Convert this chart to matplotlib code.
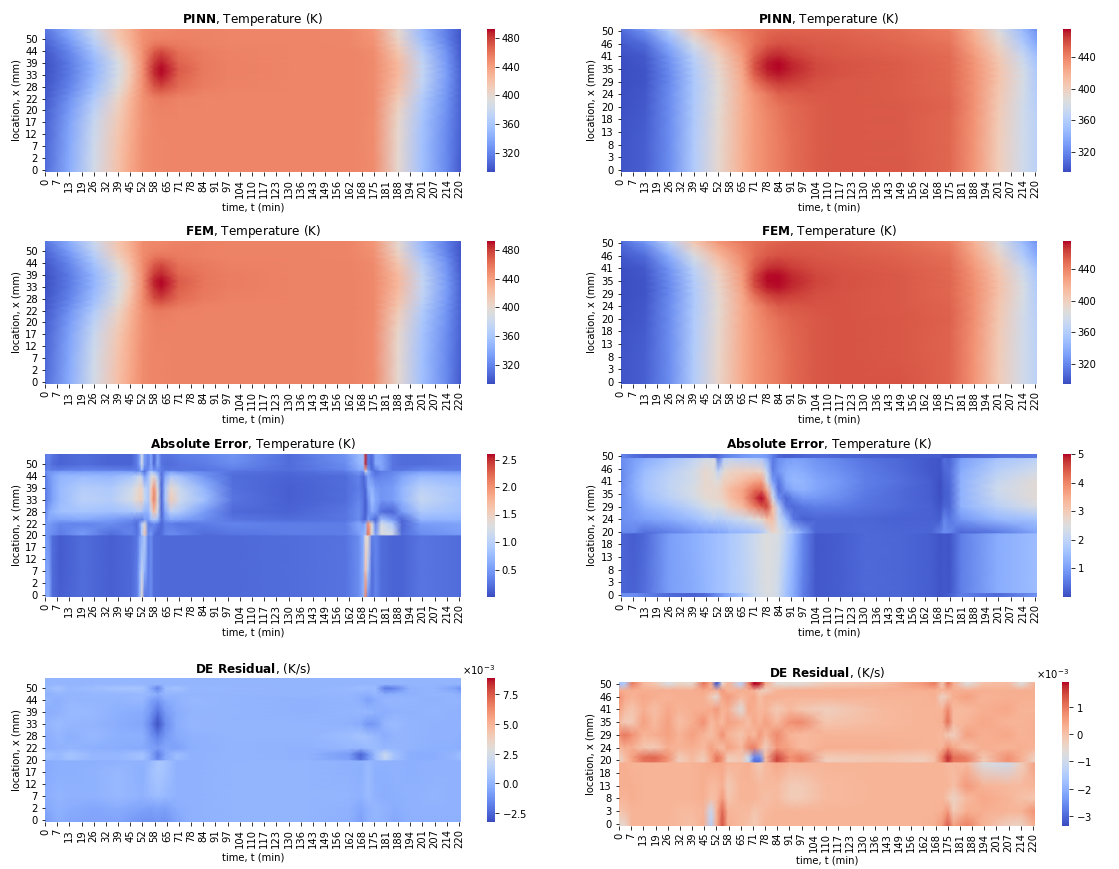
import numpy as np
import matplotlib
matplotlib.use("Agg")
import matplotlib.pyplot as plt

W, H = 1119, 869

t_labels = [0, 7, 13, 19, 26, 32, 39, 45, 52, 58, 65, 71, 78, 84, 91, 97, 104,
            110, 117, 123, 130, 136, 143, 149, 156, 162, 168, 175, 181, 188,
            194, 201, 207, 214, 220]
x_labels_left = [0, 2, 7, 12, 17, 20, 22, 28, 33, 39, 44, 50, 56]
x_labels_right = [0, 3, 8, 13, 18, 20, 24, 29, 35, 41, 46, 50, 56]

# temperature, left column
t_temp_left = [0, 13, 26, 39, 45, 52, 58, 62, 71, 84, 97, 130, 162, 175, 188, 201, 214, 222]
x_temp_left = [0, 7, 17, 20, 22, 25, 28, 33, 36, 39, 44, 47, 50, 56]
pinn_left = [
    [308, 342, 384, 420, 435, 447, 451, 451, 452, 452, 452, 452, 452, 449, 400, 355, 322, 300],
    [306, 340, 382, 418, 433, 447, 451, 451, 452, 452, 452, 452, 452, 448, 400, 355, 322, 302],
    [304, 336, 378, 414, 430, 446, 451, 452, 452, 452, 452, 452, 452, 448, 402, 357, 324, 304],
    [302, 332, 372, 410, 428, 446, 452, 453, 452, 452, 452, 452, 452, 449, 406, 360, 326, 304],
    [300, 328, 364, 404, 425, 446, 454, 456, 453, 452, 452, 452, 452, 449, 412, 364, 328, 304],
    [299, 324, 358, 398, 421, 447, 462, 465, 458, 453, 452, 452, 452, 449, 417, 368, 329, 304],
    [298, 320, 354, 394, 418, 447, 470, 476, 462, 455, 453, 452, 452, 449, 420, 372, 330, 304],
    [296, 316, 348, 388, 412, 447, 482, 490, 468, 457, 454, 452, 452, 449, 425, 375, 332, 304],
    [296, 316, 348, 388, 412, 447, 484, 492, 469, 457, 454, 452, 452, 449, 425, 375, 331, 303],
    [296, 316, 348, 388, 413, 447, 480, 488, 466, 457, 454, 452, 452, 449, 424, 374, 330, 302],
    [300, 322, 358, 400, 421, 447, 468, 474, 460, 455, 453, 452, 452, 448, 416, 366, 326, 300],
    [303, 328, 365, 408, 425, 447, 458, 460, 456, 453, 452, 452, 451, 446, 410, 360, 322, 299],
    [306, 334, 372, 414, 428, 447, 452, 453, 454, 453, 452, 452, 451, 445, 404, 354, 318, 298],
    [314, 345, 382, 418, 431, 447, 450, 450, 452, 453, 452, 452, 451, 443, 398, 350, 316, 300],
]
fem_left = [
    [308, 342, 385, 421, 435, 448, 452, 452, 453, 453, 453, 453, 453, 450, 400, 355, 322, 300],
    [306, 340, 383, 419, 433, 448, 452, 452, 453, 453, 453, 453, 453, 449, 400, 355, 322, 302],
    [304, 336, 378, 415, 431, 447, 452, 453, 453, 453, 453, 453, 453, 449, 402, 357, 324, 304],
    [302, 332, 372, 410, 428, 447, 453, 454, 453, 453, 453, 453, 453, 450, 407, 360, 326, 304],
    [300, 328, 364, 404, 425, 447, 455, 457, 454, 453, 453, 453, 453, 450, 412, 364, 328, 304],
    [299, 324, 358, 398, 421, 448, 464, 467, 458, 454, 453, 453, 453, 450, 417, 368, 329, 304],
    [298, 320, 354, 394, 418, 448, 473, 478, 463, 456, 454, 453, 453, 450, 420, 372, 330, 304],
    [296, 316, 348, 388, 412, 448, 484, 491, 468, 458, 455, 453, 453, 450, 425, 375, 332, 304],
    [296, 316, 348, 388, 412, 448, 486, 492, 469, 458, 455, 453, 453, 450, 425, 375, 331, 303],
    [296, 316, 348, 388, 413, 448, 480, 486, 465, 458, 455, 453, 453, 450, 424, 374, 330, 302],
    [300, 322, 358, 400, 421, 448, 467, 472, 459, 456, 454, 453, 453, 449, 416, 366, 326, 300],
    [303, 328, 365, 408, 425, 448, 458, 460, 456, 454, 453, 453, 452, 447, 410, 360, 322, 299],
    [306, 334, 372, 414, 428, 448, 453, 454, 455, 454, 453, 453, 452, 446, 404, 354, 318, 298],
    [314, 345, 382, 418, 431, 448, 451, 451, 453, 454, 453, 453, 452, 444, 398, 350, 316, 300],
]

# temperature, right column
t_temp_right = [0, 13, 26, 39, 52, 65, 71, 78, 84, 91, 104, 117, 149, 175, 188, 201, 214, 222]
x_temp_right = [0, 8, 18, 20, 24, 29, 32, 35, 38, 41, 46, 50, 56]
pinn_right = [
    [298, 302, 322, 358, 392, 420, 430, 437, 442, 448, 454, 456, 456, 451, 432, 402, 376, 364],
    [298, 302, 322, 358, 391, 420, 430, 437, 442, 448, 454, 456, 455, 451, 432, 402, 376, 364],
    [297, 301, 322, 357, 390, 420, 430, 438, 444, 449, 454, 456, 455, 451, 433, 403, 376, 363],
    [296, 300, 322, 357, 389, 420, 431, 440, 445, 450, 454, 456, 455, 452, 434, 404, 376, 362],
    [296, 299, 322, 356, 388, 420, 433, 444, 452, 454, 456, 456, 454, 451, 434, 406, 378, 360],
    [295, 298, 321, 356, 389, 422, 445, 460, 466, 464, 458, 456, 454, 450, 434, 408, 380, 358],
    [295, 298, 321, 357, 391, 424, 452, 468, 472, 468, 460, 457, 454, 450, 434, 408, 380, 357],
    [295, 298, 322, 358, 392, 426, 456, 472, 476, 471, 461, 457, 454, 450, 433, 408, 378, 356],
    [295, 299, 324, 361, 395, 428, 456, 472, 476, 470, 460, 457, 454, 449, 432, 406, 375, 353],
    [296, 300, 326, 364, 398, 430, 452, 467, 471, 465, 458, 456, 453, 449, 430, 404, 372, 350],
    [299, 308, 340, 380, 412, 436, 446, 454, 458, 457, 455, 454, 451, 446, 424, 395, 358, 336],
    [306, 324, 362, 402, 428, 441, 446, 450, 452, 453, 453, 452, 448, 442, 418, 385, 348, 325],
    [310, 332, 370, 408, 432, 443, 446, 449, 450, 452, 452, 451, 447, 440, 414, 380, 344, 320],
]
fem_right = [
    [298, 302, 322, 359, 394, 422, 432, 439, 444, 450, 456, 457, 457, 452, 433, 403, 377, 365],
    [298, 302, 322, 359, 393, 422, 432, 439, 444, 450, 456, 457, 456, 452, 433, 403, 377, 365],
    [297, 301, 322, 358, 392, 422, 432, 440, 446, 451, 456, 457, 456, 452, 434, 404, 377, 364],
    [296, 300, 322, 358, 391, 422, 433, 442, 447, 452, 456, 457, 456, 453, 435, 405, 377, 363],
    [296, 299, 322, 357, 390, 422, 435, 447, 454, 456, 457, 457, 455, 452, 435, 407, 379, 361],
    [295, 298, 321, 357, 391, 425, 449, 464, 468, 465, 459, 457, 455, 451, 435, 409, 381, 359],
    [295, 298, 321, 358, 393, 428, 457, 472, 474, 469, 461, 458, 455, 451, 435, 409, 381, 358],
    [295, 298, 322, 359, 394, 430, 460, 475, 476, 471, 462, 458, 455, 451, 434, 409, 379, 357],
    [295, 299, 324, 362, 397, 431, 459, 474, 475, 469, 461, 458, 455, 450, 433, 407, 376, 354],
    [296, 300, 326, 365, 400, 433, 454, 468, 470, 465, 459, 457, 454, 450, 431, 405, 373, 351],
    [299, 308, 340, 381, 414, 438, 448, 455, 458, 457, 456, 455, 452, 447, 425, 396, 359, 337],
    [306, 324, 362, 403, 430, 443, 447, 451, 453, 454, 454, 453, 449, 443, 419, 386, 349, 326],
    [310, 332, 370, 409, 434, 445, 447, 450, 451, 453, 453, 452, 448, 441, 415, 381, 345, 321],
]

# absolute error, left column
t_err_left = [0, 2, 4, 8, 20, 35, 46, 49, 50.5, 51.5, 53, 55, 56.5, 58, 60, 62, 64, 67, 72,
              85, 100, 130, 160, 167, 169.5, 170.5, 172, 174, 176, 179, 185, 190, 200, 222]
x_err_left = [0, 7, 19.9, 20.2, 22, 24, 28, 33, 39, 44, 46.5, 47, 50, 56]
err_left = [
    [0.60, 0.65, 0.20, 0.12, 0.20, 0.12, 0.18, 0.30, 0.70, 1.40, 0.25, 0.30, 0.40, 0.20, 0.20, 0.18, 0.18, 0.18, 0.18, 0.18, 0.18, 0.20, 0.24, 0.40, 0.65, 2.10, 0.40, 0.20, 0.35, 0.20, 0.15, 0.15, 0.25, 0.20],
    [0.55, 0.55, 0.20, 0.10, 0.20, 0.12, 0.18, 0.30, 0.70, 1.10, 0.70, 0.30, 0.40, 0.20, 0.20, 0.18, 0.18, 0.18, 0.18, 0.18, 0.18, 0.20, 0.24, 0.40, 0.65, 1.70, 0.90, 0.20, 0.35, 0.20, 0.15, 0.15, 0.25, 0.20],
    [0.50, 0.45, 0.20, 0.10, 0.20, 0.12, 0.18, 0.25, 0.50, 0.60, 1.00, 0.30, 0.40, 0.20, 0.20, 0.18, 0.18, 0.18, 0.18, 0.18, 0.18, 0.20, 0.24, 0.40, 0.65, 1.30, 1.40, 0.30, 0.35, 0.20, 0.15, 0.15, 0.25, 0.20],
    [0.50, 0.45, 0.40, 0.30, 0.50, 0.20, 0.35, 0.25, 0.40, 0.90, 1.60, 0.40, 0.50, 0.25, 0.15, 0.20, 0.35, 0.40, 0.35, 0.20, 0.25, 0.30, 0.30, 0.50, 0.70, 0.80, 2.20, 1.30, 0.50, 1.30, 1.20, 0.20, 0.40, 0.50],
    [0.50, 0.50, 0.45, 0.35, 0.35, 0.40, 0.30, 0.20, 0.50, 0.90, 1.30, 0.30, 0.30, 0.40, 0.30, 0.15, 0.30, 0.30, 0.25, 0.30, 0.35, 0.30, 0.30, 0.60, 0.50, 0.70, 2.00, 1.30, 0.35, 1.20, 0.90, 0.15, 0.50, 0.55],
    [0.40, 0.60, 0.55, 0.55, 0.60, 0.50, 0.40, 0.30, 0.30, 0.25, 0.50, 0.50, 0.80, 0.90, 0.80, 0.20, 0.45, 0.60, 0.55, 0.40, 0.25, 0.20, 0.25, 0.40, 0.20, 0.15, 0.50, 0.30, 0.15, 0.80, 0.50, 0.15, 0.70, 0.70],
    [0.35, 0.60, 0.70, 0.80, 0.85, 0.80, 0.85, 0.90, 0.90, 0.85, 0.70, 0.70, 1.10, 1.70, 1.20, 0.15, 0.60, 1.00, 0.90, 0.50, 0.18, 0.15, 0.25, 0.40, 0.25, 0.10, 0.35, 0.60, 0.50, 0.20, 0.15, 0.50, 0.90, 0.80],
    [0.30, 0.40, 0.55, 0.75, 1.00, 0.95, 1.20, 1.40, 1.50, 1.50, 1.10, 0.90, 1.60, 2.10, 1.35, 0.15, 0.85, 1.55, 1.15, 0.80, 0.25, 0.12, 0.20, 0.35, 0.25, 0.10, 0.40, 0.80, 0.60, 0.45, 0.50, 0.70, 1.10, 0.85],
    [0.30, 0.40, 0.55, 0.75, 0.95, 0.90, 1.15, 1.35, 1.45, 1.45, 1.05, 0.90, 1.50, 2.00, 1.30, 0.15, 0.85, 1.40, 1.10, 0.70, 0.22, 0.12, 0.20, 0.30, 0.20, 0.15, 0.60, 0.70, 0.50, 0.45, 0.50, 0.70, 1.00, 0.85],
    [0.30, 0.45, 0.55, 0.70, 0.75, 0.72, 0.85, 1.00, 1.10, 1.00, 0.50, 0.80, 1.20, 1.30, 0.90, 0.20, 0.60, 0.90, 0.80, 0.45, 0.20, 0.15, 0.20, 0.35, 0.15, 0.30, 0.55, 0.40, 0.30, 0.35, 0.40, 0.55, 0.75, 0.70],
    [0.40, 0.45, 0.45, 0.50, 0.50, 0.50, 0.50, 0.40, 0.50, 0.35, 0.20, 0.60, 0.90, 0.70, 0.50, 0.25, 0.40, 0.50, 0.40, 0.35, 0.25, 0.18, 0.30, 0.50, 0.40, 1.20, 0.70, 0.35, 0.20, 0.30, 0.35, 0.40, 0.50, 0.45],
    [0.30, 0.35, 0.30, 0.30, 0.35, 0.32, 0.30, 0.30, 0.40, 0.80, 0.30, 0.40, 0.60, 0.40, 0.40, 0.30, 0.25, 0.25, 0.25, 0.25, 0.30, 0.20, 0.35, 0.60, 0.60, 1.80, 0.50, 0.20, 0.30, 0.55, 0.25, 0.25, 0.35, 0.30],
    [0.25, 0.30, 0.20, 0.15, 0.20, 0.15, 0.15, 0.30, 0.60, 1.20, 0.50, 0.30, 0.60, 0.15, 0.60, 0.25, 0.20, 0.20, 0.25, 0.30, 0.40, 0.20, 0.40, 0.70, 0.80, 2.50, 0.30, 0.15, 0.60, 0.60, 0.25, 0.20, 0.20, 0.25],
    [0.30, 0.35, 0.25, 0.15, 0.20, 0.15, 0.15, 0.30, 0.60, 1.20, 0.50, 0.35, 0.60, 0.15, 0.55, 0.25, 0.25, 0.25, 0.30, 0.35, 0.45, 0.20, 0.45, 0.75, 0.80, 2.50, 0.30, 0.20, 0.60, 0.55, 0.25, 0.20, 0.20, 0.25],
]

# absolute error, right column
t_err_right = [0, 7, 13, 26, 39, 45, 50, 52, 55, 58, 65, 71, 75, 78, 81, 84, 88, 92, 97, 104,
               117, 130, 150, 165, 170, 172, 175, 181, 200, 222]
x_err_right = [0, 0.5, 0.6, 8, 19.7, 19.9, 24, 29, 33, 37, 41, 45, 49.4, 49.6, 56]
err_right = [
    [0.80, 0.80, 0.60, 0.35, 0.25, 0.35, 0.70, 0.80, 1.00, 1.20, 1.60, 2.10, 2.30, 2.40, 2.40, 2.20, 1.60, 1.20, 0.60, 0.15, 0.20, 0.30, 0.30, 0.20, 0.10, 0.15, 0.20, 0.60, 0.35, 0.85],
    [0.80, 0.80, 0.60, 0.35, 0.25, 0.35, 0.70, 0.80, 1.00, 1.20, 1.60, 2.10, 2.30, 2.40, 2.40, 2.20, 1.60, 1.20, 0.60, 0.15, 0.20, 0.30, 0.30, 0.20, 0.10, 0.15, 0.20, 0.60, 0.35, 0.85],
    [0.30, 0.25, 0.40, 1.00, 1.20, 1.35, 1.50, 1.55, 1.60, 1.70, 1.90, 2.15, 2.35, 2.45, 2.40, 2.20, 1.60, 1.20, 0.60, 0.15, 0.20, 0.35, 0.30, 0.20, 0.10, 0.15, 0.10, 0.60, 1.20, 1.50],
    [0.30, 0.22, 0.38, 1.00, 1.22, 1.38, 1.50, 1.55, 1.60, 1.70, 1.92, 2.18, 2.38, 2.48, 2.42, 2.25, 1.70, 1.25, 0.65, 0.15, 0.20, 0.35, 0.30, 0.20, 0.10, 0.15, 0.10, 0.60, 1.20, 1.50],
    [0.30, 0.20, 0.35, 1.00, 1.25, 1.40, 1.50, 1.55, 1.60, 1.70, 1.95, 2.20, 2.40, 2.50, 2.45, 2.40, 1.90, 1.40, 0.70, 0.15, 0.20, 0.35, 0.30, 0.20, 0.10, 0.15, 0.10, 0.60, 1.20, 1.50],
    [0.70, 0.70, 0.40, 0.60, 0.90, 1.00, 1.00, 1.10, 1.10, 1.30, 1.40, 1.50, 1.70, 2.20, 2.80, 2.50, 2.00, 1.70, 1.10, 0.30, 0.30, 0.35, 0.30, 0.30, 0.60, 0.80, 0.70, 0.30, 0.50, 1.10],
    [0.80, 0.90, 1.00, 1.20, 1.50, 1.70, 1.90, 1.80, 1.90, 2.00, 2.20, 2.50, 2.70, 3.20, 3.20, 2.20, 1.50, 0.50, 0.25, 0.30, 0.30, 0.30, 0.25, 0.25, 0.20, 0.70, 0.50, 0.90, 1.40, 1.60],
    [0.80, 1.00, 1.30, 1.60, 2.00, 2.30, 2.50, 2.45, 2.60, 2.90, 3.30, 4.00, 4.40, 4.60, 3.20, 1.90, 0.50, 0.35, 0.50, 0.60, 0.55, 0.45, 0.35, 0.25, 0.10, 0.30, 0.30, 1.30, 1.90, 2.40],
    [0.75, 1.10, 1.50, 1.90, 2.30, 2.60, 2.70, 2.75, 2.90, 3.20, 3.60, 4.50, 5.00, 4.20, 2.30, 0.90, 0.30, 0.70, 0.90, 0.90, 0.75, 0.50, 0.35, 0.20, 0.05, 0.20, 0.30, 1.30, 2.10, 2.60],
    [0.75, 1.20, 1.60, 2.00, 2.40, 2.70, 2.70, 2.75, 3.00, 3.30, 3.60, 4.20, 4.30, 3.40, 1.80, 0.40, 0.90, 1.20, 1.30, 1.10, 0.85, 0.55, 0.35, 0.20, 0.05, 0.20, 0.30, 1.30, 2.20, 2.60],
    [0.70, 1.20, 1.60, 2.00, 2.30, 2.70, 2.60, 2.55, 2.90, 3.00, 3.30, 3.60, 3.70, 2.40, 1.00, 0.50, 1.20, 1.40, 1.35, 1.15, 0.90, 0.60, 0.40, 0.20, 0.05, 0.25, 0.35, 1.30, 2.10, 2.60],
    [0.70, 1.10, 1.50, 1.90, 2.30, 2.70, 2.50, 2.00, 2.60, 2.80, 2.90, 2.90, 2.80, 2.00, 0.60, 0.90, 1.20, 1.30, 1.20, 1.00, 0.80, 0.55, 0.35, 0.15, 0.10, 0.30, 0.40, 1.20, 1.90, 2.30],
    [0.75, 1.00, 1.20, 1.60, 2.00, 2.30, 2.40, 0.50, 1.80, 2.00, 1.90, 1.80, 1.70, 1.20, 0.50, 0.80, 0.95, 1.00, 1.00, 0.85, 0.65, 0.45, 0.30, 0.15, 0.10, 0.40, 0.30, 1.00, 1.60, 1.90],
    [0.70, 0.40, 0.30, 0.30, 0.30, 0.40, 0.30, 0.40, 0.60, 0.70, 0.90, 1.00, 1.00, 0.90, 0.60, 0.30, 0.20, 0.25, 0.30, 0.35, 0.30, 0.25, 0.20, 0.20, 0.20, 0.10, 0.10, 0.25, 0.40, 0.50],
    [0.70, 0.40, 0.30, 0.30, 0.30, 0.40, 0.30, 0.40, 0.60, 0.70, 0.90, 1.00, 1.00, 0.90, 0.60, 0.30, 0.20, 0.25, 0.30, 0.35, 0.30, 0.25, 0.20, 0.20, 0.20, 0.10, 0.10, 0.25, 0.40, 0.50],
]

# DE residual (x 1e-3), left column
t_res_left = [0, 7, 13, 26, 39, 52, 56, 60, 64, 70, 78, 100, 140, 162, 168, 172, 176, 181, 186, 194, 207, 218, 222]
x_res_left = [0, 2, 7, 17, 19.8, 20.1, 21, 22, 28, 33, 39, 44, 47, 50, 52, 56]
res_left = [
    [-0.9, -0.3, -0.5, -0.6, -0.6, -1.2, -1.2, -1.1, -1.2, -0.6, -0.1, 0.0, 0.0, -0.2, -0.7, -0.2, 0.0, -0.1, -0.5, -0.2, -0.2, -0.2, -0.2],
    [-0.5, -0.1, -0.3, -0.5, -0.3, -0.6, -0.7, -0.6, -0.7, -0.3, -0.1, 0.0, 0.0, -0.1, -0.5, -0.1, 0.1, -0.1, -0.3, -0.1, -0.1, -0.1, -0.1],
    [-0.3, 0.0, -0.1, -0.1, 0.2, -0.1, 0.2, 0.4, 0.2, -0.1, -0.1, 0.0, 0.0, 0.0, -0.1, 0.3, -0.1, -0.3, -0.2, -0.1, 0.0, -0.1, -0.1],
    [-0.4, -0.2, -0.2, -0.1, 0.2, -0.2, 0.4, 0.8, 0.5, -0.1, -0.1, 0.0, 0.0, -0.1, -0.2, 0.3, -0.2, -0.2, -0.1, -0.2, -0.1, -0.1, -0.1],
    [-0.4, -0.2, -0.2, -0.2, -0.1, -0.1, 0.1, 0.8, 0.6, -0.1, -0.1, 0.0, 0.0, -0.1, -0.1, 0.2, -0.1, -0.1, -0.1, -0.2, -0.1, -0.1, -0.1],
    [0.3, 0.1, 0.5, 0.1, 0.1, 0.5, -0.3, -1.5, -0.4, 0.3, -0.1, 0.0, -0.1, -0.7, -2.2, -1.0, 0.3, 1.6, 0.5, -0.2, -0.3, 0.1, 0.3],
    [0.5, 0.2, 0.7, 0.1, 0.1, 0.6, -0.3, -1.9, -0.5, 0.4, -0.1, 0.0, -0.1, -0.9, -2.6, -1.2, 0.4, 2.0, 0.6, -0.3, -0.3, 0.1, 0.5],
    [-0.3, -0.1, 0.0, -0.2, -0.3, -0.4, -0.6, -0.9, -0.5, -0.7, -0.2, 0.0, -0.1, 0.1, 0.0, 0.3, 0.3, 0.1, 0.1, 0.0, -0.2, -0.2, -0.3],
    [-0.3, 0.1, -0.2, 0.2, -0.2, -0.2, -1.0, -1.8, -1.0, -0.4, -0.1, 0.0, 0.0, 0.4, 0.7, 0.5, 0.2, -0.3, 0.0, 0.0, -0.1, -0.1, -0.2],
    [0.0, 0.3, 0.1, 0.0, -0.3, -0.5, -1.5, -3.1, -1.4, -0.3, 0.1, 0.0, 0.0, -0.1, -0.4, -1.1, -0.9, 0.1, 0.3, 0.0, -0.1, -0.1, 0.0],
    [-0.3, -0.1, 0.2, 0.2, -0.2, -0.4, -1.0, -2.1, -1.0, -0.3, 0.0, 0.0, -0.1, 0.0, 0.1, 0.2, -0.1, -0.3, -0.1, -0.1, 0.0, -0.1, -0.2],
    [0.1, -0.2, 0.1, 0.0, 0.0, 0.2, -0.6, -1.1, -0.4, -0.1, 0.2, 0.0, -0.1, 0.0, -0.2, -0.7, -0.3, 0.1, 0.1, 0.0, -0.1, 0.0, 0.0],
    [-0.2, 0.1, 0.0, 0.1, 0.1, 0.2, 0.1, -0.3, 0.1, 0.0, 0.0, 0.0, 0.0, 0.1, -0.1, -0.2, 0.1, -0.3, -0.2, -0.1, 0.0, 0.0, -0.3],
    [0.2, 0.6, 0.2, 0.4, 0.7, 0.7, -0.3, -1.7, 0.3, 0.6, 0.1, 0.1, 0.0, 0.2, 0.4, 0.3, 0.3, -2.0, -1.7, -0.1, 0.0, -0.7, -1.3],
    [0.0, 0.1, 0.0, 0.1, 0.1, 0.1, 0.0, 0.0, 0.0, 0.0, 0.0, 0.0, 0.0, 0.0, 0.0, 0.0, 0.0, 0.0, 0.0, 0.0, 0.0, 0.0, 0.0],
    [0.0, 0.0, 0.0, 0.0, 0.0, 0.0, 0.0, 0.0, 0.0, 0.0, 0.0, 0.0, 0.0, 0.0, 0.0, 0.0, 0.0, 0.0, 0.0, 0.0, 0.0, 0.0, 0.0],
]

# DE residual (x 1e-3), right column
t_res_right = [0, 3, 7, 13, 19, 26, 32, 39, 45, 49, 52, 55, 58, 65, 69, 72, 75, 78, 84, 91, 97,
               110, 140, 162, 168, 172, 175, 178, 185, 194, 207, 214, 222]
x_res_right = [0, 3, 8, 13, 19.6, 19.8, 21, 24, 29, 35, 41, 46, 48, 50, 56]
res_right = [
    [-0.6, -0.5, 0.2, 0.2, 0.2, 0.2, 0.1, 0.0, 0.3, -1.4, 0.3, 1.4, 0.3, 0.1, 0.0, -0.2, 0.0, 0.2, 0.2, 0.2, 0.2, 0.2, 0.2, 0.2, 0.3, 0.6, 1.3, 0.5, 0.9, 0.2, -0.3, -0.4, 0.3],
    [-0.1, 0.0, 0.2, 0.2, 0.2, 0.2, 0.1, 0.1, 0.2, -1.1, 0.2, 1.2, 0.2, 0.1, 0.1, -0.1, 0.0, 0.1, 0.2, 0.2, 0.2, 0.2, 0.2, 0.2, 0.2, 0.3, 0.6, -0.2, 0.3, 0.3, 0.2, 0.2, 0.7],
    [0.2, 0.2, 0.3, 0.2, 0.2, 0.2, 0.2, 0.2, 0.3, 0.0, 0.1, 0.6, -0.1, 0.2, 0.2, 0.2, 0.1, 0.0, 0.1, -0.2, -0.2, 0.1, 0.2, 0.2, 0.2, 0.2, -0.1, -0.4, 0.1, 0.4, 0.2, 0.0, -0.1],
    [0.3, 0.3, 0.3, 0.2, 0.2, 0.2, 0.2, 0.2, 0.3, 0.1, 0.1, 0.3, -0.2, 0.2, 0.2, 0.2, 0.1, 0.1, 0.1, -0.2, -0.2, 0.1, 0.2, 0.2, 0.2, 0.2, 0.2, 0.0, 0.6, 0.2, 0.1, 0.1, 0.2],
    [0.3, 0.3, 0.2, 0.2, 0.2, 0.2, 0.2, 0.2, 0.3, 0.4, 0.4, 0.4, 0.2, 0.2, 0.3, 0.0, -0.2, 0.1, 0.4, 0.2, 0.2, 0.2, 0.2, 0.2, 0.2, 0.2, 0.1, 0.1, 0.1, -0.8, -1.0, -0.3, 0.5],
    [-0.4, 0.0, 0.4, 1.0, 1.1, 0.6, -0.3, 0.1, -0.3, 0.4, 1.0, 0.6, -0.3, -0.1, -1.1, -3.0, -2.9, 0.0, 1.5, 0.6, 0.9, -0.3, -0.1, -0.3, 0.0, 0.8, 1.6, 1.0, 0.9, -0.2, 0.7, 0.3, -0.4],
    [-0.4, 0.0, 0.5, 1.1, 1.2, 0.7, -0.2, 0.1, -0.2, 0.4, 1.0, 0.7, -0.2, -0.1, -1.0, -2.6, -2.5, 0.1, 1.5, 0.7, 0.9, -0.2, -0.1, -0.2, 0.0, 0.9, 1.7, 1.1, 0.9, -0.1, 0.7, 0.3, -0.3],
    [0.1, 0.3, 0.3, -0.1, -0.2, 0.3, 0.2, 0.3, 0.1, 0.5, 0.2, 0.0, 0.5, 0.1, 0.8, 0.9, 0.3, -0.3, 0.6, 0.4, 0.1, 0.3, 0.3, 0.2, 0.2, 0.2, 0.7, 0.4, 0.0, 0.3, 0.2, 0.3, 0.2],
    [0.7, 1.0, 0.7, 0.2, 0.3, 0.5, 0.2, 0.5, 0.2, 0.0, 0.3, 0.7, 0.2, -0.1, 0.3, 0.1, 0.6, 0.2, 0.8, 0.2, 0.1, 0.2, 0.2, 0.2, 0.2, 0.1, -0.2, -0.3, 0.5, 0.3, 0.4, 0.2, 0.3],
    [0.1, -0.2, -0.2, 0.5, 0.1, 0.5, 0.0, 0.3, 0.7, 0.1, 0.3, 0.1, 0.5, 0.3, 0.0, 0.4, 0.2, 0.5, 0.1, 0.7, 0.8, -0.1, 0.1, 0.2, 0.2, 0.3, 1.1, 0.1, 0.2, 0.4, 0.2, 0.2, 0.3],
    [0.5, 0.1, -0.1, 0.3, 0.0, 0.4, 0.2, 0.3, 0.3, 0.4, 0.6, 0.2, 0.3, -0.7, 0.4, 0.3, 0.1, 0.2, -0.2, 0.1, -0.1, -0.3, 0.1, 0.2, 0.2, 0.2, 0.8, 0.1, 0.1, 0.3, 0.4, 0.2, 0.2],
    [0.7, 0.4, 0.2, 0.4, 0.3, 0.2, 0.3, 0.3, 0.3, -0.2, -0.6, 0.4, 0.6, 0.1, 0.3, 0.4, 0.0, 0.3, 0.3, 0.2, 0.2, 0.2, 0.2, 0.2, 0.3, -0.4, -0.1, 0.3, 0.5, 0.2, 0.3, 0.3, 0.3],
    [0.3, 0.3, 0.3, 0.3, 0.3, 0.3, 0.3, 0.3, 0.4, 0.3, 0.2, 0.6, 0.2, 0.3, 0.3, 0.2, -0.2, -0.3, 0.2, 0.3, 0.3, 0.3, 0.3, 0.3, 0.3, 0.2, 0.3, 0.3, 0.3, 0.3, 0.3, 0.3, 0.3],
    [-1.7, -1.5, 0.9, 0.1, -0.1, -0.8, -0.4, -0.5, 1.0, 0.3, -3.2, -0.5, 0.2, -1.3, 0.8, 1.9, 1.7, 0.3, -0.6, -0.6, -0.6, -0.2, 0.0, 0.6, 0.9, -0.2, 1.0, 0.3, -0.7, 0.0, 0.1, -0.7, 0.3],
    [-1.7, -1.5, 0.9, 0.1, -0.1, -0.8, -0.4, -0.5, 1.0, 0.3, -3.2, -0.5, 0.2, -1.3, 0.8, 1.9, 1.7, 0.3, -0.6, -0.6, -0.6, -0.2, 0.0, 0.6, 0.9, -0.2, 1.0, 0.3, -0.7, 0.0, 0.1, -0.7, 0.3],
]


def heat_panel(fig, box, cbox, t, x, values, x_labels, ylim, title, vmin, vmax, cticks, sci=False):
    """Draws one panel and its colorbar, boxes are given in pixels."""
    left, top, right, bottom = box
    ax = fig.add_axes([left / W, 1 - bottom / H, (right - left) / W, (bottom - top) / H])
    xlim = (0, 221.4)

    # the x (mm) axis is not linear, one tick step per label
    xpos = np.interp(x, x_labels, np.arange(len(x_labels)))
    xpos[0], xpos[-1] = ylim
    tpos = np.array(t, dtype=float)
    tpos[0], tpos[-1] = xlim

    mesh = ax.pcolormesh(tpos, xpos, np.array(values), shading="gouraud",
                         cmap="coolwarm", vmin=vmin, vmax=vmax)
    ax.set_xlim(xlim)
    ax.set_ylim(ylim)
    for spine in ax.spines.values():
        spine.set_visible(False)

    ax.set_xticks(np.arange(len(t_labels)) * 6.48)
    ax.set_xticklabels(t_labels, rotation=90, fontsize=10)
    ax.set_yticks(np.arange(len(x_labels) - 1))
    ax.set_yticklabels(x_labels[:-1], fontsize=10)
    ax.set_xlabel("time, t (min)", fontsize=10)
    ax.set_ylabel("location, x (mm)", fontsize=10)
    ax.set_title(title, fontsize=12, pad=6)

    left, top, right, bottom = cbox
    cax = fig.add_axes([left / W, 1 - bottom / H, (right - left) / W, (bottom - top) / H])
    cbar = fig.colorbar(mesh, cax=cax)
    cbar.outline.set_visible(False)
    cbar.set_ticks(cticks)
    cbar.ax.tick_params(labelsize=10)
    if sci:
        cbar.formatter.set_powerlimits((0, 0))
        cbar.formatter.set_useMathText(True)
        cbar.update_ticks()
    return ax


def main():
    fig = plt.figure(figsize=(W / 72, H / 72), dpi=72)

    yl_left = (-0.17, 11.84)
    yl_right = (-0.16, 11.16)
    res_l = np.array(res_left) * 1e-3
    res_r = np.array(res_right) * 1e-3
    temp_ticks = [320, 360, 400, 440, 480]
    temp_ticks_r = [320, 360, 400, 440]

    heat_panel(fig, (45, 29, 461, 172), (487, 29, 494.6, 172), t_temp_left, x_temp_left, pinn_left,
               x_labels_left, yl_left, r"$\bf{PINN}$, Temperature (K)", 294, 492, temp_ticks)
    heat_panel(fig, (620.5, 29, 1037, 172), (1063, 29, 1070.5, 172), t_temp_right, x_temp_right, pinn_right,
               x_labels_right, yl_right, r"$\bf{PINN}$, Temperature (K)", 294, 476, temp_ticks_r)
    heat_panel(fig, (45, 241, 461, 384), (487, 241, 494.6, 384), t_temp_left, x_temp_left, fem_left,
               x_labels_left, yl_left, r"$\bf{FEM}$, Temperature (K)", 294, 492, temp_ticks)
    heat_panel(fig, (620.5, 241, 1037, 384), (1063, 241, 1070.5, 384), t_temp_right, x_temp_right, fem_right,
               x_labels_right, yl_right, r"$\bf{FEM}$, Temperature (K)", 294, 476, temp_ticks_r)
    heat_panel(fig, (45, 454, 461, 597), (487, 454, 494.6, 597), t_err_left, x_err_left, err_left,
               x_labels_left, yl_left, r"$\bf{Absolute\ Error}$, Temperature (K)", 0, 2.6,
               [0.5, 1.0, 1.5, 2.0, 2.5])
    heat_panel(fig, (620.5, 454, 1037, 597), (1063, 454, 1070.5, 597), t_err_right, x_err_right, err_right,
               x_labels_right, yl_right, r"$\bf{Absolute\ Error}$, Temperature (K)", 0, 5,
               [1, 2, 3, 4, 5])
    heat_panel(fig, (45, 678, 461, 822), (487, 678, 494.6, 822), t_res_left, x_res_left, res_l,
               x_labels_left, yl_left, r"$\bf{DE\ Residual}$, (K/s)", -3.23e-3, 8.84e-3,
               [-2.5e-3, 0, 2.5e-3, 5e-3, 7.5e-3], sci=True)
    heat_panel(fig, (619, 682, 1035, 825.7), (1062, 682, 1069, 825.7), t_res_right, x_res_right, res_r,
               x_labels_right, yl_right, r"$\bf{DE\ Residual}$, (K/s)", -3.35e-3, 1.9e-3,
               [-3e-3, -2e-3, -1e-3, 0, 1e-3], sci=True)

    fig.savefig("out.png", dpi=72)


if __name__ == "__main__":
    main()
